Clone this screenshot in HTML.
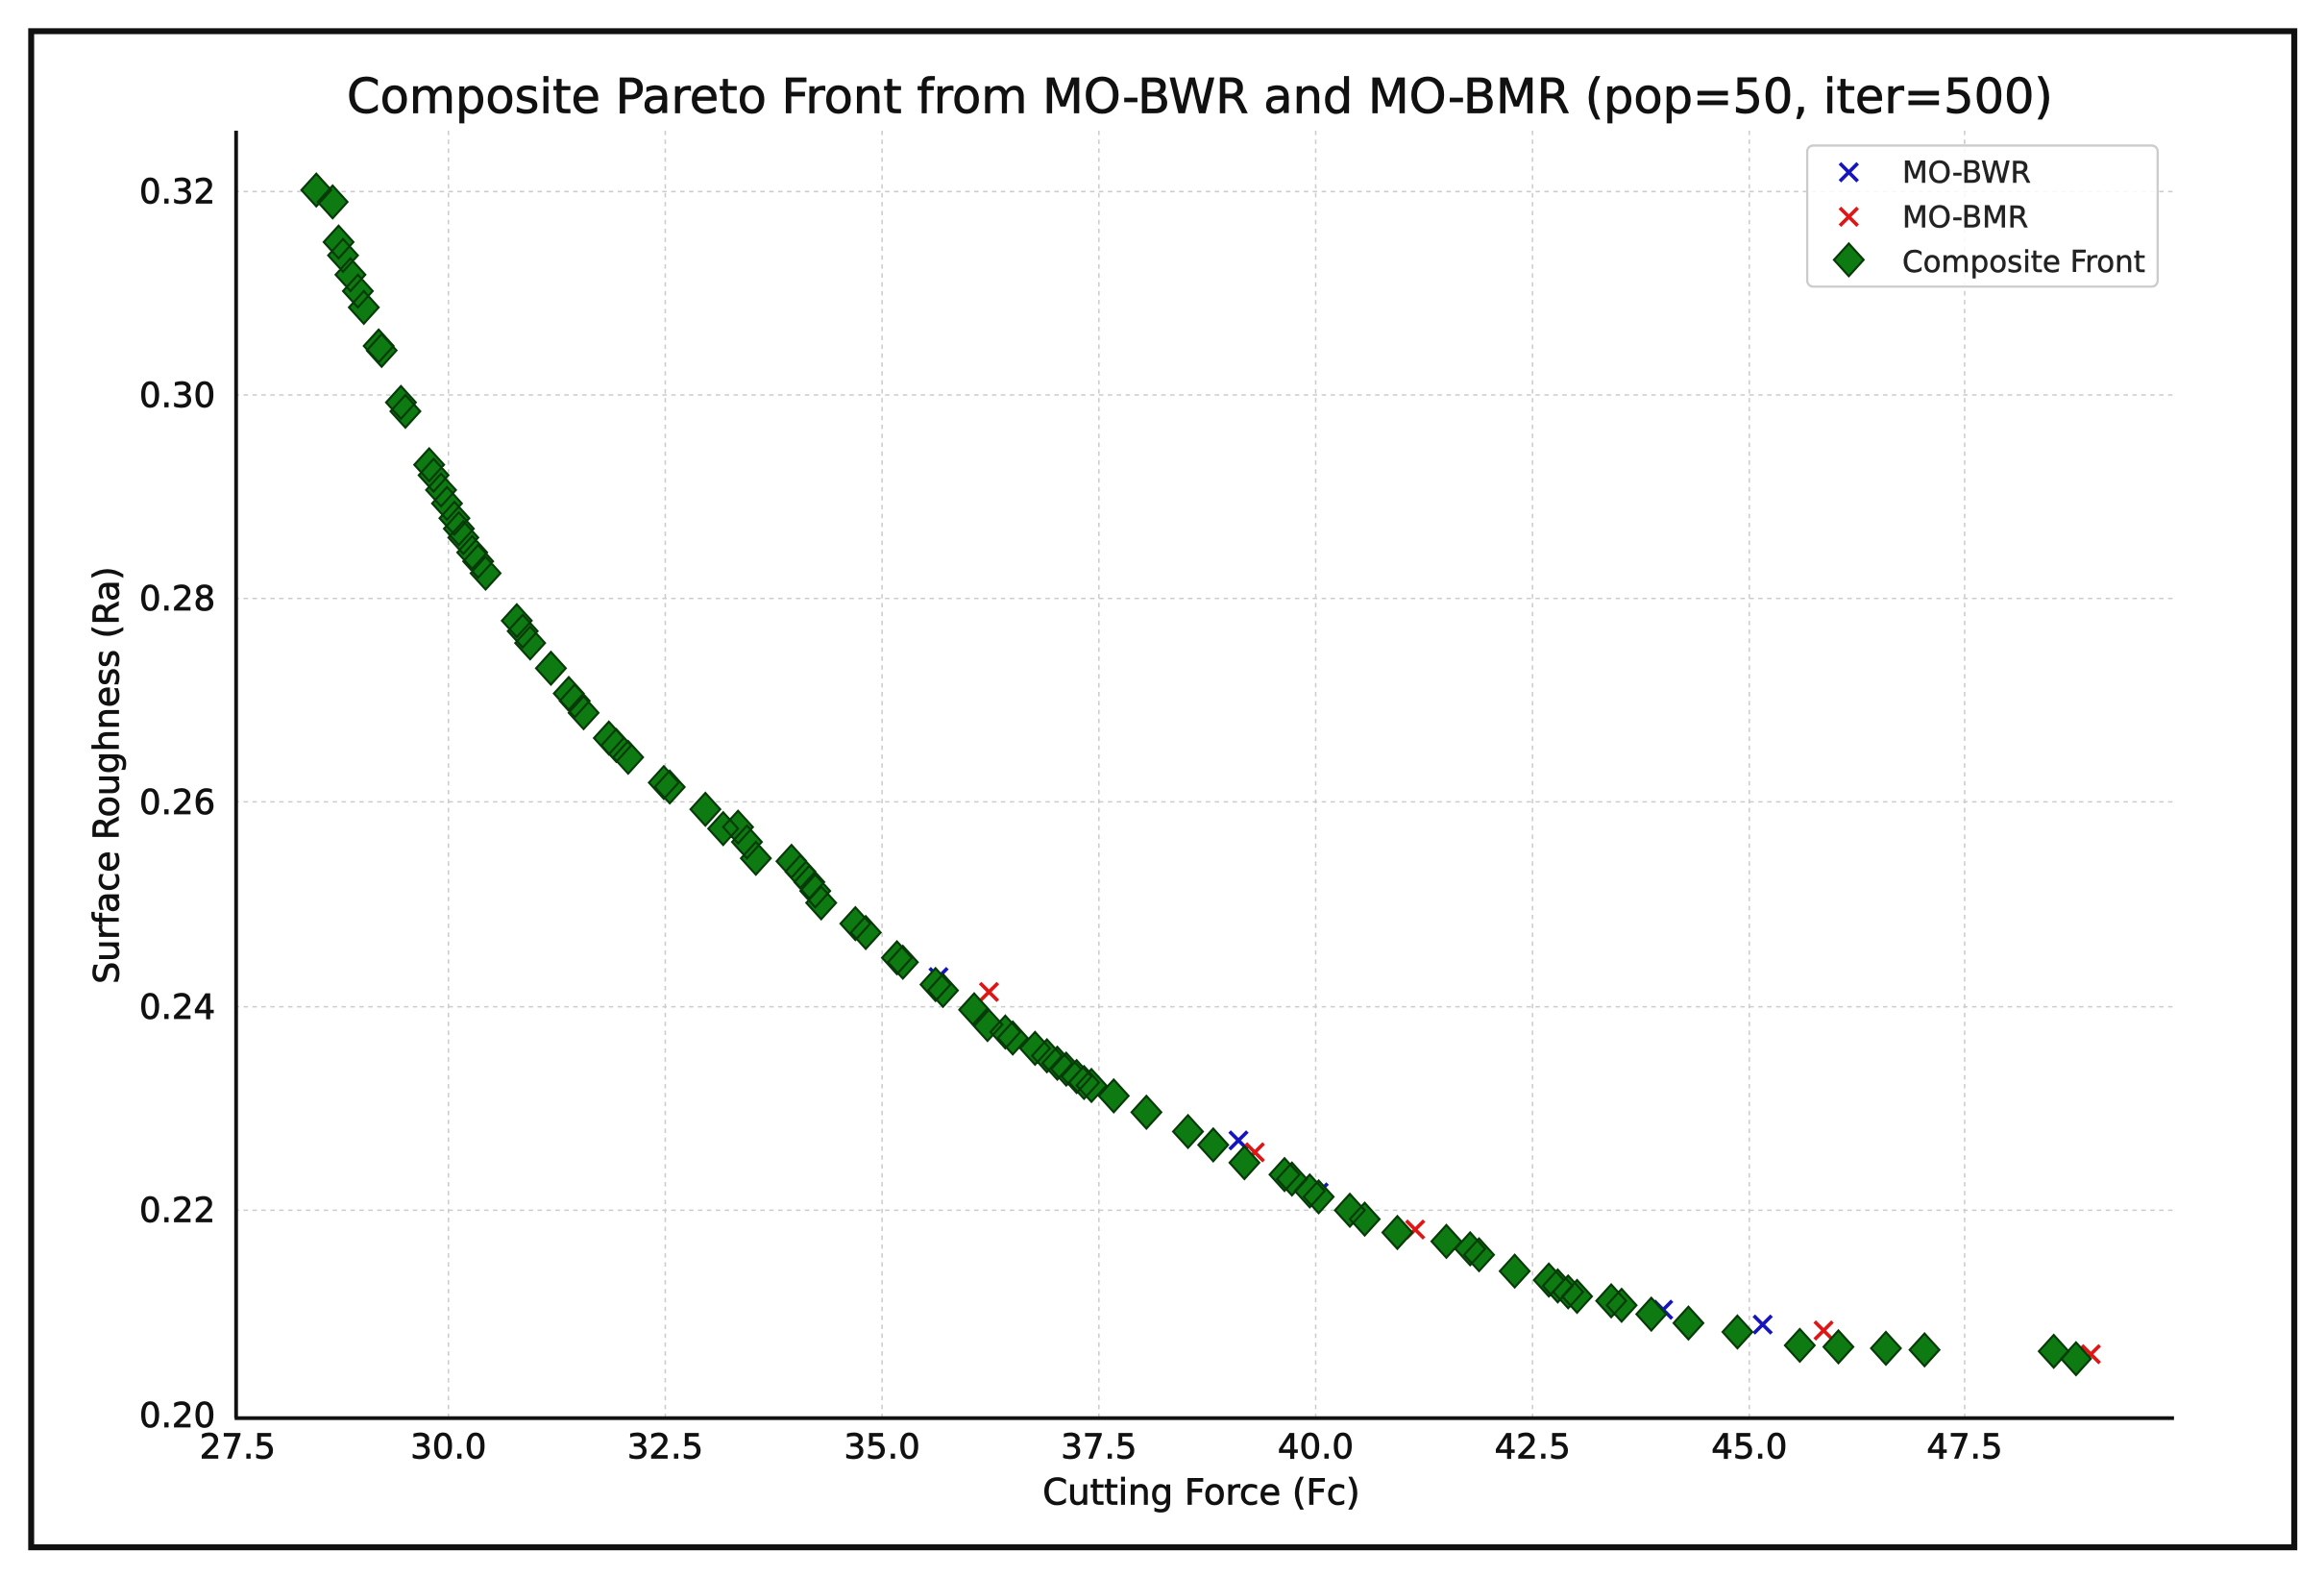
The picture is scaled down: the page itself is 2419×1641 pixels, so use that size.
<!DOCTYPE html>
<html><head><meta charset="utf-8"><style>html,body{margin:0;padding:0;background:#fff}svg{display:block}</style></head>
<body>
<svg width="2419" height="1641" viewBox="0 0 1565 1062" preserveAspectRatio="none" xmlns="http://www.w3.org/2000/svg" font-family="'DejaVu Sans','Liberation Sans',sans-serif">
<rect x="0" y="0" width="1565" height="1062" fill="#fff"/>
<rect x="21" y="21" width="1524" height="1021" fill="none" stroke="#111" stroke-width="4"/>
<g stroke="#ccc" stroke-width="1" stroke-dasharray="3,3">
<line x1="302" y1="88" x2="302" y2="955"/><line x1="448" y1="88" x2="448" y2="955"/><line x1="594" y1="88" x2="594" y2="955"/><line x1="740" y1="88" x2="740" y2="955"/><line x1="886" y1="88" x2="886" y2="955"/><line x1="1032" y1="88" x2="1032" y2="955"/><line x1="1178" y1="88" x2="1178" y2="955"/><line x1="1323" y1="88" x2="1323" y2="955"/>
<line x1="158" y1="129" x2="1463" y2="129"/><line x1="158" y1="266" x2="1463" y2="266"/><line x1="158" y1="403" x2="1463" y2="403"/><line x1="158" y1="540" x2="1463" y2="540"/><line x1="158" y1="678" x2="1463" y2="678"/><line x1="158" y1="815" x2="1463" y2="815"/>
</g>
<g stroke="#111" stroke-width="2.5"><line x1="159" y1="88" x2="159" y2="955"/><line x1="158" y1="955" x2="1464" y2="955"/></g>
<g fill="#111" stroke="#111" stroke-width="0.5">
<text x="808" y="76" font-size="32" text-anchor="middle">Composite Pareto Front from MO-BWR and MO-BMR (pop=50, iter=500)</text>
<g font-size="23" text-anchor="end">
<text x="145" y="137">0.32</text><text x="145" y="274">0.30</text><text x="145" y="411">0.28</text><text x="145" y="548">0.26</text><text x="145" y="686">0.24</text><text x="145" y="823">0.22</text><text x="145" y="961">0.20</text>
</g>
<g font-size="23" text-anchor="middle">
<text x="160" y="982">27.5</text><text x="302" y="982">30.0</text><text x="448" y="982">32.5</text><text x="594" y="982">35.0</text><text x="740" y="982">37.5</text><text x="886" y="982">40.0</text><text x="1032" y="982">42.5</text><text x="1178" y="982">45.0</text><text x="1323" y="982">47.5</text>
</g>
<text x="809" y="1013" font-size="24" text-anchor="middle">Cutting Force (Fc)</text>
<text transform="translate(80,522) rotate(-90)" font-size="23.5" text-anchor="middle">Surface Roughness (Ra)</text>
</g>
<g stroke="#1515c0" stroke-width="2.4">
<path d="M626 652l12 12M638 652l-12 12 M828 762l12 12M840 762l-12 12 M882 797l12 12M894 797l-12 12 M1114 876l12 12M1126 876l-12 12 M1181 886l12 12M1193 886l-12 12"/>
</g>
<g stroke="#e01515" stroke-width="2.4">
<path d="M660 662l12 12M672 662l-12 12 M839 770l12 12M851 770l-12 12 M947 822l12 12M959 822l-12 12 M1222 890l12 12M1234 890l-12 12 M1402 906l12 12M1414 906l-12 12"/>
</g>
<path fill="#0e7a12" stroke="#063a08" stroke-width="1.4" d="
M213 117l10 11-10 11-10-11z M224 125l10 11-10 11-10-11z M228 152l10 11-10 11-10-11z M231 161l10 11-10 11-10-11z M236 174l10 11-10 11-10-11z M241 185l10 11-10 11-10-11z M245 196l10 11-10 11-10-11z M255 222l10 11-10 11-10-11z M257 225l10 11-10 11-10-11z M270 260l10 11-10 11-10-11z M273 266l10 11-10 11-10-11z M289 302l10 11-10 11-10-11z M292 309l10 11-10 11-10-11z M297 319l10 11-10 11-10-11z M301 328l10 11-10 11-10-11z M306 338l10 11-10 11-10-11z M309 345l10 11-10 11-10-11z M312 351l10 11-10 11-10-11z M318 361l10 11-10 11-10-11z M322 367l10 11-10 11-10-11z M327 375l10 11-10 11-10-11z M348 407l10 11-10 11-10-11z M352 414l10 11-10 11-10-11z M357 422l10 11-10 11-10-11z M371 439l10 11-10 11-10-11z M383 456l10 11-10 11-10-11z M387 461l10 11-10 11-10-11z M393 469l10 11-10 11-10-11z M410 486l10 11-10 11-10-11z M415 491l10 11-10 11-10-11z M423 499l10 11-10 11-10-11z M447 516l10 11-10 11-10-11z M451 519l10 11-10 11-10-11z M475 534l10 11-10 11-10-11z M487 547l10 11-10 11-10-11z M497 546l10 11-10 11-10-11z M503 556l10 11-10 11-10-11z M509 567l10 11-10 11-10-11z M533 569l10 11-10 11-10-11z M539 576l10 11-10 11-10-11z M545 583l10 11-10 11-10-11z M549 589l10 11-10 11-10-11z M553 597l10 11-10 11-10-11z M576 611l10 11-10 11-10-11z M583 617l10 11-10 11-10-11z M604 634l10 11-10 11-10-11z M608 637l10 11-10 11-10-11z M630 652l10 11-10 11-10-11z M635 656l10 11-10 11-10-11z M656 669l10 11-10 11-10-11z M665 679l10 11-10 11-10-11z M677 684l10 11-10 11-10-11z M682 688l10 11-10 11-10-11z M697 695l10 11-10 11-10-11z M705 700l10 11-10 11-10-11z M712 705l10 11-10 11-10-11z M718 709l10 11-10 11-10-11z M725 714l10 11-10 11-10-11z M730 718l10 11-10 11-10-11z M735 720l10 11-10 11-10-11z M750 727l10 11-10 11-10-11z M772 738l10 11-10 11-10-11z M800 751l10 11-10 11-10-11z M817 760l10 11-10 11-10-11z M838 772l10 11-10 11-10-11z M865 780l10 11-10 11-10-11z M870 783l10 11-10 11-10-11z M882 791l10 11-10 11-10-11z M888 795l10 11-10 11-10-11z M909 804l10 11-10 11-10-11z M919 810l10 11-10 11-10-11z M941 819l10 11-10 11-10-11z M974 825l10 11-10 11-10-11z M990 830l10 11-10 11-10-11z M996 834l10 11-10 11-10-11z M1020 845l10 11-10 11-10-11z M1043 851l10 11-10 11-10-11z M1049 855l10 11-10 11-10-11z M1056 859l10 11-10 11-10-11z M1062 862l10 11-10 11-10-11z M1085 865l10 11-10 11-10-11z M1092 868l10 11-10 11-10-11z M1112 874l10 11-10 11-10-11z M1137 880l10 11-10 11-10-11z M1170 886l10 11-10 11-10-11z M1212 895l10 11-10 11-10-11z M1238 896l10 11-10 11-10-11z M1270 897l10 11-10 11-10-11z M1296 898l10 11-10 11-10-11z M1383 899l10 11-10 11-10-11z M1398 904l10 11-10 11-10-11z"/>
<rect x="1217" y="98" width="236" height="95" rx="4" fill="#fff" fill-opacity="0.85" stroke="#ccc" stroke-width="1.5"/>
<path stroke="#1515c0" stroke-width="2.4" d="M1239 110l12 12M1251 110l-12 12"/>
<path stroke="#e01515" stroke-width="2.4" d="M1239 140l12 12M1251 140l-12 12"/>
<path fill="#0e7a12" stroke="#063a08" stroke-width="1.4" d="M1245 164l10 11-10 11-10-11z"/>
<g font-size="20" fill="#222" stroke="#222" stroke-width="0.3"><text x="1281" y="123">MO-BWR</text><text x="1281" y="153">MO-BMR</text><text x="1281" y="183">Composite Front</text></g>
</svg>
</body></html>
